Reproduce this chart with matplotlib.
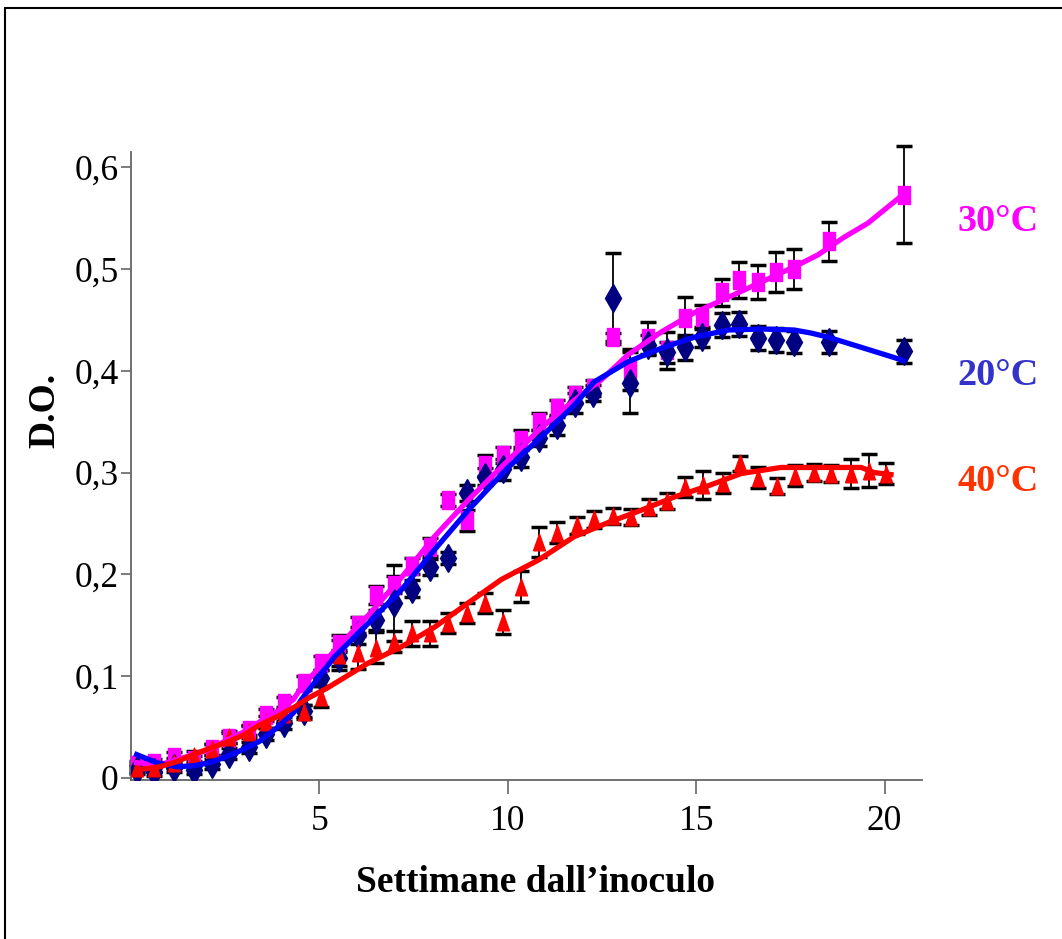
import matplotlib
matplotlib.use("Agg")
import matplotlib.pyplot as plt
from matplotlib.ticker import FuncFormatter
from matplotlib.patches import Rectangle

plt.rcParams['font.family'] = ['Liberation Serif', 'DejaVu Serif']

# sampling times (weeks after inoculation) for 30°C and 20°C
weeks = [0.15, 0.62, 1.15, 1.66, 2.14, 2.61, 3.12, 3.59, 4.07, 4.58,
         5.05, 5.53, 6.03, 6.51, 6.99, 7.47, 7.94, 8.42, 8.93, 9.40,
         9.88, 10.36, 10.84, 11.31, 11.79, 12.27, 12.80, 13.25, 13.73, 14.23,
         14.71, 15.16, 15.69, 16.14, 16.64, 17.12, 17.60, 18.52, 20.52]

od_30 = [0.013, 0.015, 0.021, 0.018, 0.028, 0.039, 0.047, 0.062, 0.074, 0.093,
         0.113, 0.132, 0.150, 0.180, 0.190, 0.208, 0.227, 0.273, 0.253, 0.307,
         0.317, 0.332, 0.350, 0.363, 0.376, 0.383, 0.433, 0.401, 0.432, 0.420,
         0.452, 0.453, 0.477, 0.489, 0.487, 0.497, 0.500, 0.527, 0.573]
err_30 = [0.004, 0.004, 0.005, 0.004, 0.005, 0.005, 0.005, 0.006, 0.006, 0.007,
          0.007, 0.008, 0.008, 0.009, 0.008, 0.008, 0.009, 0.006, 0.010, 0.010,
          0.008, 0.010, 0.008, 0.008, 0.008, 0.008, 0.004, 0.020, 0.016, 0.018,
          0.020, 0.012, 0.013, 0.018, 0.017, 0.020, 0.020, 0.019, 0.048]

od_20 = [0.008, 0.006, 0.010, 0.008, 0.014, 0.024, 0.030, 0.043, 0.054, 0.066,
         0.098, 0.118, 0.140, 0.155, 0.172, 0.186, 0.207, 0.216, 0.280, 0.296,
         0.303, 0.315, 0.334, 0.347, 0.368, 0.378, 0.471, 0.388, 0.425, 0.418,
         0.423, 0.433, 0.445, 0.446, 0.432, 0.430, 0.428, 0.428, 0.419]
err_20 = [0.004, 0.004, 0.004, 0.004, 0.005, 0.005, 0.005, 0.006, 0.006, 0.006,
          0.008, 0.008, 0.008, 0.010, 0.037, 0.008, 0.008, 0.006, 0.008, 0.008,
          0.010, 0.010, 0.008, 0.010, 0.010, 0.008, 0.045, 0.030, 0.010, 0.010,
          0.012, 0.010, 0.012, 0.012, 0.012, 0.012, 0.011, 0.011, 0.011]

weeks_40 = [0.15, 0.62, 1.15, 1.66, 2.14, 2.61, 3.12, 3.59, 4.07, 4.58,
            5.05, 5.53, 6.03, 6.51, 6.99, 7.47, 7.94, 8.42, 8.93, 9.40,
            9.88, 10.36, 10.84, 11.31, 11.84, 12.29, 12.80, 13.28, 13.75, 14.23,
            14.71, 15.19, 15.72, 16.17, 16.64, 17.15, 17.63, 18.13, 18.58, 19.11,
            19.59, 20.04]
od_40 = [0.010, 0.010, 0.015, 0.022, 0.028, 0.040, 0.045, 0.055, 0.063, 0.065,
         0.080, 0.121, 0.123, 0.128, 0.134, 0.142, 0.142, 0.152, 0.162, 0.172,
         0.153, 0.188, 0.232, 0.241, 0.248, 0.254, 0.257, 0.256, 0.266, 0.272,
         0.286, 0.288, 0.290, 0.309, 0.295, 0.287, 0.297, 0.300, 0.299, 0.299,
         0.302, 0.299]
err_40 = [0.004, 0.004, 0.005, 0.005, 0.005, 0.006, 0.006, 0.006, 0.007, 0.007,
          0.010, 0.015, 0.016, 0.015, 0.010, 0.012, 0.012, 0.010, 0.010, 0.010,
          0.012, 0.015, 0.015, 0.010, 0.008, 0.008, 0.008, 0.008, 0.008, 0.008,
          0.010, 0.014, 0.010, 0.007, 0.010, 0.008, 0.010, 0.008, 0.008, 0.014,
          0.016, 0.010]

# smoothed trend curves
fit_x_30 = [0.15, 0.76, 1.21, 1.66, 2.08, 2.53, 2.98, 3.41, 3.86, 4.31, 4.52,
            5.40, 6.30, 7.18, 8.05, 8.95, 10.01, 10.89, 11.76, 12.48, 13.20,
            14.07, 14.95, 15.85, 16.72, 17.60, 18.24, 18.92, 19.56, 20.49]
fit_y_30 = [0.015, 0.013, 0.018, 0.023, 0.028, 0.037, 0.045, 0.055, 0.065, 0.077, 0.089,
            0.125, 0.160, 0.197, 0.237, 0.273, 0.312, 0.344, 0.371, 0.391, 0.416,
            0.438, 0.457, 0.472, 0.487, 0.502, 0.514, 0.531, 0.545, 0.573]

fit_x_20 = [0.15, 0.68, 1.21, 1.66, 2.08, 2.53, 2.98, 3.41, 3.86, 4.31, 4.52,
            5.40, 6.30, 7.18, 8.05, 8.95, 10.01, 10.89, 11.76, 12.29, 13.20,
            14.07, 14.95, 15.85, 16.72, 17.60, 18.05, 18.50, 19.38, 20.25, 20.49]
fit_y_20 = [0.023, 0.015, 0.011, 0.012, 0.015, 0.021, 0.028, 0.036, 0.049, 0.064, 0.077,
            0.119, 0.152, 0.185, 0.224, 0.263, 0.305, 0.335, 0.366, 0.389, 0.409,
            0.422, 0.433, 0.440, 0.441, 0.440, 0.437, 0.433, 0.423, 0.413, 0.410]

fit_x_40 = [0.15, 0.76, 1.21, 1.66, 2.08, 2.53, 2.98, 3.41, 3.86, 4.31, 4.73,
            5.19, 6.30, 7.18, 8.05, 8.95, 9.83, 10.81, 11.76, 12.67, 13.54,
            14.42, 15.32, 16.19, 17.25, 18.66, 19.38, 19.72, 20.17]
fit_y_40 = [0.008, 0.011, 0.016, 0.023, 0.029, 0.035, 0.042, 0.052, 0.060, 0.069, 0.079,
            0.088, 0.113, 0.129, 0.148, 0.172, 0.195, 0.214, 0.237, 0.251, 0.263,
            0.276, 0.287, 0.299, 0.305, 0.305, 0.305, 0.300, 0.298]

labels = ['30°C', '20°C', '40°C']

# tall narrow markers as in the original
square = [(-0.32, -0.5), (0.32, -0.5), (0.32, 0.5), (-0.32, 0.5), (-0.32, -0.5)]
triangle = [(-0.36, -0.5), (0.36, -0.5), (0.0, 0.5), (-0.36, -0.5)]

fig = plt.figure(figsize=(10.62, 9.39), dpi=100)
ax = fig.add_axes([0.1234, 0.1693, 0.745, 0.669])

eb = dict(fmt='none', ecolor='black', elinewidth=1.3, capsize=5.5, capthick=2.5, zorder=2)
for xs, ys, es in [(weeks, od_30, err_30), (weeks, od_20, err_20), (weeks_40, od_40, err_40)]:
    cont = ax.errorbar(xs, ys, yerr=es, **eb)
    for art in cont.lines[1] + cont.lines[2]:
        art.set_clip_on(False)

ax.plot(weeks, od_30, linestyle='none', marker=square, markersize=13,
        color='#ff00ff', zorder=3)
ax.plot(weeks, od_20, linestyle='none', marker='d', markersize=14,
        color='#000080', zorder=3)
ax.plot(weeks_40, od_40, linestyle='none', marker=triangle, markersize=12,
        color='#ff0000', zorder=3)

ax.plot(fit_x_30, fit_y_30, color='#ff00ff', linewidth=3.8, zorder=4)
ax.plot(fit_x_20, fit_y_20, color='#0000ff', linewidth=3.8, zorder=5)
ax.plot(fit_x_40, fit_y_40, color='#ff0000', linewidth=3.8, zorder=6)

ax.set_xlim(0, 21)
ax.set_ylim(-0.002, 0.615)
ax.set_xticks([5, 10, 15, 20])
ax.set_yticks([0, 0.1, 0.2, 0.3, 0.4, 0.5, 0.6])
ax.yaxis.set_major_formatter(FuncFormatter(
    lambda v, p: '0' if abs(v) < 1e-9 else f'{v:.1f}'.replace('.', ',')))

for side in ('top', 'right'):
    ax.spines[side].set_visible(False)
for side in ('left', 'bottom'):
    ax.spines[side].set_color('#666666')
    ax.spines[side].set_linewidth(1.3)
ax.tick_params(axis='both', direction='out', color='#666666', width=1.2,
               labelsize=25.5)
ax.tick_params(axis='x', length=10, pad=8)
ax.tick_params(axis='y', length=7, pad=2)

ax.set_xlabel('Settimane dall’inoculo', fontsize=27, fontweight='bold')
ax.xaxis.set_label_coords(0.511, -0.135)
ax.set_ylabel('D.O.', fontsize=27, fontweight='bold')
ax.yaxis.set_label_coords(-0.087, 0.589)

fig.text(0.940, 0.7636, labels[0], color='#ff00ff', fontsize=27.5, fontweight='bold',
         ha='center', va='center')
fig.text(0.940, 0.6006, labels[1], color='#3333cc', fontsize=27.5, fontweight='bold',
         ha='center', va='center')
fig.text(0.940, 0.4867, labels[2], color='#ff3300', fontsize=27.5, fontweight='bold',
         ha='center', va='center')

# outer frame of the original picture
fig.add_artist(Rectangle((5 / 1062, -0.05), 1.2, 1 - 8 / 939 + 0.05,
                         transform=fig.transFigure, fill=False,
                         edgecolor='black', linewidth=1.5))

fig.savefig('out.png', dpi=100)
